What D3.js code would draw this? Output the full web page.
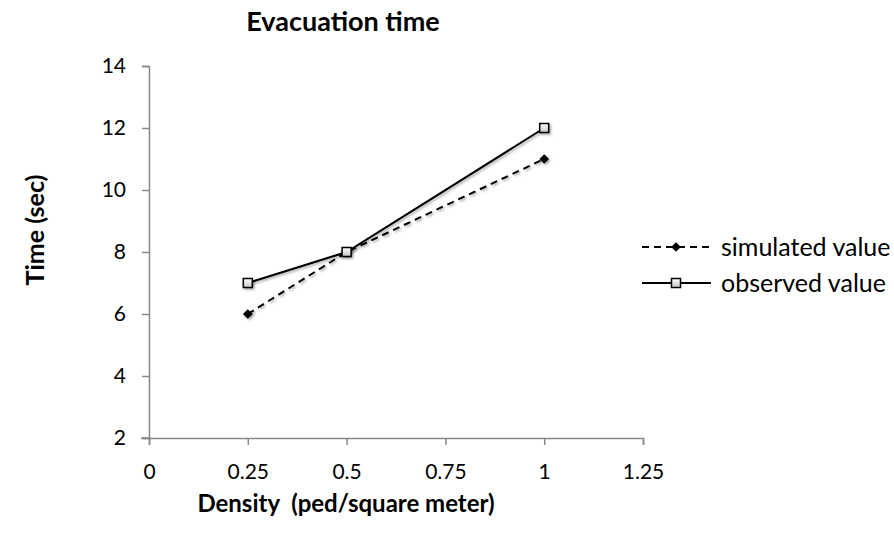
<!DOCTYPE html>
<html lang="en">
<head>
<meta charset="UTF-8">
<title>Evacuation time</title>
<style>
  body { margin: 0; background: #fff; }
  text { font-family: Lato, "Open Sans", sans-serif; fill: #000; }
</style>
</head>
<body>
<script src="https://d3js.org/d3.v7.min.js"></script>
<script>
  const density = [0.25, 0.5, 1];
  const simulated = [6, 8, 11];
  const observed = [7, 8, 12];
  const xTicks = [0, 0.25, 0.5, 0.75, 1, 1.25];
  const yTicks = [2, 4, 6, 8, 10, 12, 14];

  const width = 894, height = 535;
  const svg = d3.select('body').append('svg')
      .attr('width', width).attr('height', height);

  const defs = svg.append('defs');
  const f = defs.append('filter').attr('id', 'shadow')
      .attr('x', '-50%').attr('y', '-50%').attr('width', '200%').attr('height', '200%');
  f.append('feDropShadow').attr('dx', 1.5).attr('dy', 1.5).attr('stdDeviation', 1.2)
      .attr('flood-color', '#000').attr('flood-opacity', 0.35);
  const g1 = defs.append('linearGradient').attr('id', 'sqfill')
      .attr('x1', 0).attr('y1', 0).attr('x2', 0).attr('y2', 1);
  g1.append('stop').attr('offset', '0%').attr('stop-color', '#ffffff');
  g1.append('stop').attr('offset', '100%').attr('stop-color', '#c8c8c8');

  const x = d3.scaleLinear().domain([0, 1.25]).range([149, 643]);
  const y = d3.scaleLinear().domain([2, 14]).range([438, 66]);

  // axes
  const xAxis = svg.append('g').attr('transform', 'translate(0,438)')
      .call(d3.axisBottom(x).tickValues(xTicks).tickFormat(d => String(d)).tickSizeOuter(0).tickSize(7).tickPadding(19));
  const yAxis = svg.append('g').attr('transform', 'translate(149,0)')
      .call(d3.axisLeft(y).tickValues(yTicks).tickSizeOuter(0).tickSize(7).tickPadding(16));
  [xAxis, yAxis].forEach(a => {
    a.attr('font-size', null).attr('font-family', null);
    a.select('.domain').attr('stroke', '#888').attr('stroke-width', 1.5);
    a.selectAll('.tick line').attr('stroke', '#888').attr('stroke-width', 1.5);
    a.selectAll('.tick text').attr('fill', '#000').style('font-size', '21px');
  });
  // extend x-axis to the left like the reference
  svg.append('line').attr('x1', 141).attr('x2', 149).attr('y1', 438).attr('y2', 438)
      .attr('stroke', '#888').attr('stroke-width', 1.5);

  const lineGen = d3.line().x(d => x(d[0])).y(d => y(d[1]));
  const simPts = density.map((d, i) => [d, simulated[i]]);
  const obsPts = density.map((d, i) => [d, observed[i]]);

  const plot = svg.append('g');
  plot.append('path').datum(obsPts).attr('d', lineGen)
      .attr('fill', 'none').attr('stroke', '#000').attr('stroke-width', 2)
      .attr('filter', 'url(#shadow)');
  plot.append('path').datum(simPts).attr('d', lineGen)
      .attr('fill', 'none').attr('stroke', '#000').attr('stroke-width', 2)
      .attr('stroke-dasharray', '7,5').attr('filter', 'url(#shadow)');

  const diamond = d3.symbol().type(d3.symbolDiamond2).size(60);
  plot.selectAll('.sim').data(simPts).enter().append('path')
      .attr('transform', d => `translate(${x(d[0])},${y(d[1])})`)
      .attr('d', diamond).attr('fill', '#000').attr('filter', 'url(#shadow)');
  plot.selectAll('.obs').data(obsPts).enter().append('rect')
      .attr('x', d => x(d[0]) - 4.5).attr('y', d => y(d[1]) - 4.5)
      .attr('width', 9).attr('height', 9)
      .attr('fill', 'url(#sqfill)').attr('stroke', '#000').attr('stroke-width', 1.5)
      .attr('filter', 'url(#shadow)');

  // titles
  svg.append('text').attr('x', 343).attr('y', 31).attr('text-anchor', 'middle')
      .style('font-size', '27px').style('font-weight', 'bold').text('Evacuation time');
  svg.append('text').attr('x', 346).attr('y', 512).attr('text-anchor', 'middle')
      .style('white-space', 'pre')
      .style('font-size', '24px').style('font-weight', 'bold').text('Density  (ped/square meter)');
  svg.append('text').attr('transform', 'translate(44,230) rotate(-90)').attr('text-anchor', 'middle')
      .style('font-size', '25px').style('font-weight', 'bold').text('Time (sec)');

  // legend
  const legend = svg.append('g');
  const items = [
    {name: 'simulated value', dash: '7,5', y: 247, marker: 'diamond'},
    {name: 'observed value', dash: null, y: 283, marker: 'square'}
  ];
  items.forEach(it => {
    legend.append('line').attr('x1', 642).attr('x2', 711).attr('y1', it.y).attr('y2', it.y)
        .attr('stroke', '#000').attr('stroke-width', 2)
        .attr('stroke-dasharray', it.dash);
    if (it.marker === 'diamond') {
      legend.append('path').attr('transform', `translate(676,${it.y})`).attr('d', diamond).attr('fill', '#000');
    } else {
      legend.append('rect').attr('x', 671.5).attr('y', it.y - 4.5).attr('width', 9).attr('height', 9)
          .attr('fill', 'url(#sqfill)').attr('stroke', '#000').attr('stroke-width', 1.5);
    }
    legend.append('text').attr('x', 721).attr('y', it.y + 9).style('font-size', '25px').text(it.name);
  });
</script>
</body>
</html>
